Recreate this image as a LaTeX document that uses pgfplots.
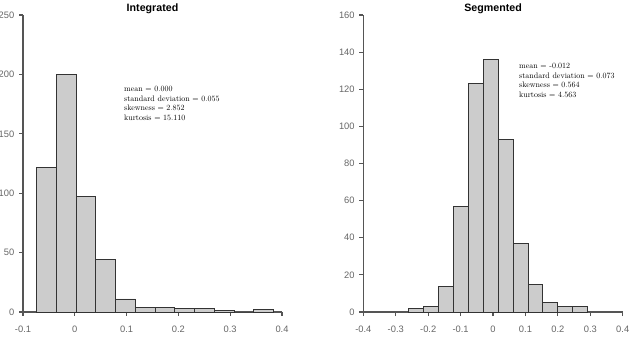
\documentclass[border=0pt]{standalone}
\usepackage{fontspec}
\newfontfamily\arialf{Liberation Sans}
\usepackage{pgfplots}
\pgfplotsset{compat=1.18}
\usepackage{pgfplotstable}

\definecolor{barfill}{HTML}{CCCCCC}
\definecolor{baredge}{HTML}{333333}
\definecolor{axcol}{HTML}{555555}
\definecolor{tickcol}{HTML}{666666}

\pgfplotstableread{
x y
-0.0736 122
-0.0355 200
0.0026 97
0.0407 44
0.0788 11
0.1169 4
0.1550 4
0.1931 3
0.2312 3
0.2693 1
0.3074 0
0.3455 2
0.3836 2
}\integrated

\pgfplotstableread{
x y
-0.2612 2
-0.2151 3
-0.1690 14
-0.1229 57
-0.0768 123
-0.0307 136
0.0154 93
0.0615 37
0.1076 15
0.1537 5
0.1998 3
0.2459 3
0.2920 3
}\segmented

\pgfplotsset{hist/.style={
  scale only axis, height=222.75pt,
  axis lines=left, axis line style={-, draw=axcol, line width=0.9pt},
  tick style={draw=axcol, line width=0.9pt}, tick align=outside,
  major tick length=3pt,
  ticklabel style={font=\arialf\fontsize{7}{8}\selectfont, text=tickcol},
  xticklabel style={yshift=-4pt},
  /pgf/number format/assume math mode=true,
  enlargelimits=false, clip=false,
  title style={font=\arialf\bfseries\fontsize{8}{9.6}\selectfont, yshift=-8.5pt},
  anchor=south west,
}}
\tikzset{stats/.style={anchor=north west, inner sep=0pt, align=left,
  font=\fontsize{10}{12}\selectfont, scale=0.6, transform shape}}

\begin{document}
\begin{tikzpicture}
\begin{axis}[hist, at={(17.25pt,18pt)}, width=194.25pt,
  xmin=-0.1, xmax=0.4, ymin=0, ymax=250,
  xtick={-0.1,0,0.1,0.2,0.3,0.4}, ytick={0,50,100,150,200,250},
  title={Integrated}]
\addplot[ybar interval, fill=barfill, draw=baredge, line width=0.6pt] table[x=x,y=y] {\integrated};
\node[stats] at (axis cs:0.095,190)
 {mean = 0.000\\standard deviation = 0.055\\skewness = 2.852\\kurtosis = 15.110};
\end{axis}
\begin{axis}[hist, at={(272.5pt,18pt)}, width=194.55pt,
  xmin=-0.4, xmax=0.4, ymin=0, ymax=160,
  xtick={-0.4,-0.3,-0.2,-0.1,0,0.1,0.2,0.3,0.4}, ytick={0,20,...,160},
  title={Segmented}]
\addplot[ybar interval, fill=barfill, draw=baredge, line width=0.6pt] table[x=x,y=y] {\segmented};
\node[stats] at (axis cs:0.080,134)
 {mean = -0.012\\standard deviation = 0.073\\skewness = 0.564\\kurtosis = 4.563};
\end{axis}
\pgfresetboundingbox
\path[use as bounding box] (0,0) rectangle (471.75pt,252pt);
\end{tikzpicture}
\end{document}
